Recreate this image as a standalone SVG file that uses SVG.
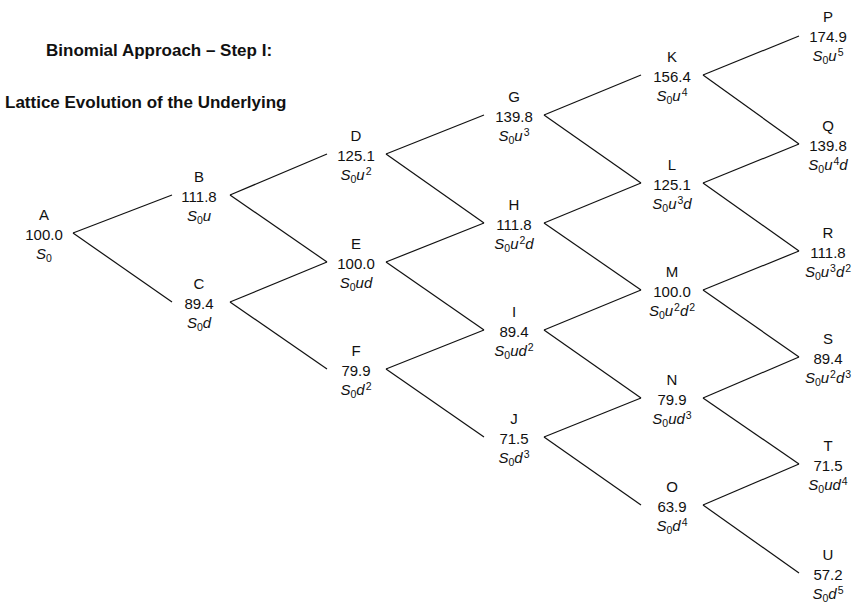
<svg xmlns="http://www.w3.org/2000/svg" width="862" height="616" viewBox="0 0 862 616">
<style>
text{font-family:"Liberation Sans",Arial,sans-serif;fill:#111;}
.t{font-size:17px;font-weight:bold;}
.n{font-size:15px;text-anchor:middle;}
.i{font-style:italic;}
.s{font-size:10.5px;}
#edges line{stroke:#111;stroke-width:1.2;}
</style>
<rect width="862" height="616" fill="#fff"/>
<g id="title">
<text class="t" x="46" y="56">Binomial Approach – Step I:</text>
<text class="t" x="5" y="108">Lattice Evolution of the Underlying</text>
</g>
<g id="edges">
<line x1="73" y1="233" x2="172" y2="195"/>
<line x1="73" y1="233" x2="172" y2="302"/>
<line x1="230" y1="195" x2="327" y2="154"/>
<line x1="230" y1="195" x2="327" y2="262"/>
<line x1="230" y1="302" x2="327" y2="262"/>
<line x1="230" y1="302" x2="327" y2="369"/>
<line x1="386" y1="154" x2="484" y2="115"/>
<line x1="386" y1="154" x2="484" y2="223"/>
<line x1="386" y1="262" x2="484" y2="223"/>
<line x1="386" y1="262" x2="484" y2="330"/>
<line x1="386" y1="369" x2="484" y2="330"/>
<line x1="386" y1="369" x2="484" y2="437"/>
<line x1="544" y1="115" x2="641" y2="75"/>
<line x1="544" y1="115" x2="641" y2="183"/>
<line x1="544" y1="223" x2="641" y2="183"/>
<line x1="544" y1="223" x2="641" y2="290"/>
<line x1="544" y1="330" x2="641" y2="290"/>
<line x1="544" y1="330" x2="641" y2="398"/>
<line x1="544" y1="437" x2="641" y2="398"/>
<line x1="544" y1="437" x2="641" y2="505"/>
<line x1="703" y1="75" x2="799" y2="36"/>
<line x1="703" y1="75" x2="799" y2="144"/>
<line x1="703" y1="183" x2="799" y2="144"/>
<line x1="703" y1="183" x2="799" y2="251"/>
<line x1="703" y1="290" x2="799" y2="251"/>
<line x1="703" y1="290" x2="799" y2="357"/>
<line x1="703" y1="398" x2="799" y2="357"/>
<line x1="703" y1="398" x2="799" y2="464"/>
<line x1="703" y1="505" x2="799" y2="464"/>
<line x1="703" y1="505" x2="799" y2="573"/>
</g>
<g id="A"><text class="n" x="44" y="220">A</text><text class="n" x="44" y="240">100.0</text><text class="n" x="44" y="259"><tspan class="i">S</tspan><tspan class="s" dy="3">0</tspan></text></g>
<g id="B"><text class="n" x="199" y="182">B</text><text class="n" x="199" y="202">111.8</text><text class="n" x="199" y="221"><tspan class="i">S</tspan><tspan class="s" dy="3">0</tspan><tspan class="i" dy="-3">u</tspan></text></g>
<g id="C"><text class="n" x="199" y="289">C</text><text class="n" x="199" y="309">89.4</text><text class="n" x="199" y="328"><tspan class="i">S</tspan><tspan class="s" dy="3">0</tspan><tspan class="i" dy="-3">d</tspan></text></g>
<g id="D"><text class="n" x="356" y="141">D</text><text class="n" x="356" y="161">125.1</text><text class="n" x="356" y="180"><tspan class="i">S</tspan><tspan class="s" dy="3">0</tspan><tspan class="i" dy="-3">u</tspan><tspan class="s" dx="1" dy="-5">2</tspan></text></g>
<g id="E"><text class="n" x="356" y="249">E</text><text class="n" x="356" y="269">100.0</text><text class="n" x="356" y="288"><tspan class="i">S</tspan><tspan class="s" dy="3">0</tspan><tspan class="i" dy="-3">ud</tspan></text></g>
<g id="F"><text class="n" x="356" y="356">F</text><text class="n" x="356" y="376">79.9</text><text class="n" x="356" y="395"><tspan class="i">S</tspan><tspan class="s" dy="3">0</tspan><tspan class="i" dy="-3">d</tspan><tspan class="s" dx="1" dy="-5">2</tspan></text></g>
<g id="G"><text class="n" x="514" y="102">G</text><text class="n" x="514" y="122">139.8</text><text class="n" x="514" y="141"><tspan class="i">S</tspan><tspan class="s" dy="3">0</tspan><tspan class="i" dy="-3">u</tspan><tspan class="s" dx="1" dy="-5">3</tspan></text></g>
<g id="H"><text class="n" x="514" y="210">H</text><text class="n" x="514" y="230">111.8</text><text class="n" x="514" y="249"><tspan class="i">S</tspan><tspan class="s" dy="3">0</tspan><tspan class="i" dy="-3">u</tspan><tspan class="s" dx="1" dy="-5">2</tspan><tspan class="i" dy="5">d</tspan></text></g>
<g id="I"><text class="n" x="514" y="317">I</text><text class="n" x="514" y="337">89.4</text><text class="n" x="514" y="356"><tspan class="i">S</tspan><tspan class="s" dy="3">0</tspan><tspan class="i" dy="-3">ud</tspan><tspan class="s" dx="1" dy="-5">2</tspan></text></g>
<g id="J"><text class="n" x="514" y="424">J</text><text class="n" x="514" y="444">71.5</text><text class="n" x="514" y="463"><tspan class="i">S</tspan><tspan class="s" dy="3">0</tspan><tspan class="i" dy="-3">d</tspan><tspan class="s" dx="1" dy="-5">3</tspan></text></g>
<g id="K"><text class="n" x="672" y="62">K</text><text class="n" x="672" y="82">156.4</text><text class="n" x="672" y="101"><tspan class="i">S</tspan><tspan class="s" dy="3">0</tspan><tspan class="i" dy="-3">u</tspan><tspan class="s" dx="1" dy="-5">4</tspan></text></g>
<g id="L"><text class="n" x="672" y="170">L</text><text class="n" x="672" y="190">125.1</text><text class="n" x="672" y="209"><tspan class="i">S</tspan><tspan class="s" dy="3">0</tspan><tspan class="i" dy="-3">u</tspan><tspan class="s" dx="1" dy="-5">3</tspan><tspan class="i" dy="5">d</tspan></text></g>
<g id="M"><text class="n" x="672" y="277">M</text><text class="n" x="672" y="297">100.0</text><text class="n" x="672" y="316"><tspan class="i">S</tspan><tspan class="s" dy="3">0</tspan><tspan class="i" dy="-3">u</tspan><tspan class="s" dx="1" dy="-5">2</tspan><tspan class="i" dy="5">d</tspan><tspan class="s" dx="1" dy="-5">2</tspan></text></g>
<g id="N"><text class="n" x="672" y="385">N</text><text class="n" x="672" y="405">79.9</text><text class="n" x="672" y="424"><tspan class="i">S</tspan><tspan class="s" dy="3">0</tspan><tspan class="i" dy="-3">ud</tspan><tspan class="s" dx="1" dy="-5">3</tspan></text></g>
<g id="O"><text class="n" x="672" y="492">O</text><text class="n" x="672" y="512">63.9</text><text class="n" x="672" y="531"><tspan class="i">S</tspan><tspan class="s" dy="3">0</tspan><tspan class="i" dy="-3">d</tspan><tspan class="s" dx="1" dy="-5">4</tspan></text></g>
<g id="P"><text class="n" x="828" y="22">P</text><text class="n" x="828" y="42">174.9</text><text class="n" x="828" y="61"><tspan class="i">S</tspan><tspan class="s" dy="3">0</tspan><tspan class="i" dy="-3">u</tspan><tspan class="s" dx="1" dy="-5">5</tspan></text></g>
<g id="Q"><text class="n" x="828" y="131">Q</text><text class="n" x="828" y="151">139.8</text><text class="n" x="828" y="170"><tspan class="i">S</tspan><tspan class="s" dy="3">0</tspan><tspan class="i" dy="-3">u</tspan><tspan class="s" dx="1" dy="-5">4</tspan><tspan class="i" dy="5">d</tspan></text></g>
<g id="R"><text class="n" x="828" y="238">R</text><text class="n" x="828" y="258">111.8</text><text class="n" x="828" y="277"><tspan class="i">S</tspan><tspan class="s" dy="3">0</tspan><tspan class="i" dy="-3">u</tspan><tspan class="s" dx="1" dy="-5">3</tspan><tspan class="i" dy="5">d</tspan><tspan class="s" dx="1" dy="-5">2</tspan></text></g>
<g id="S"><text class="n" x="828" y="344">S</text><text class="n" x="828" y="364">89.4</text><text class="n" x="828" y="383"><tspan class="i">S</tspan><tspan class="s" dy="3">0</tspan><tspan class="i" dy="-3">u</tspan><tspan class="s" dx="1" dy="-5">2</tspan><tspan class="i" dy="5">d</tspan><tspan class="s" dx="1" dy="-5">3</tspan></text></g>
<g id="T"><text class="n" x="828" y="451">T</text><text class="n" x="828" y="471">71.5</text><text class="n" x="828" y="490"><tspan class="i">S</tspan><tspan class="s" dy="3">0</tspan><tspan class="i" dy="-3">ud</tspan><tspan class="s" dx="1" dy="-5">4</tspan></text></g>
<g id="U"><text class="n" x="828" y="560">U</text><text class="n" x="828" y="580">57.2</text><text class="n" x="828" y="599"><tspan class="i">S</tspan><tspan class="s" dy="3">0</tspan><tspan class="i" dy="-3">d</tspan><tspan class="s" dx="1" dy="-5">5</tspan></text></g>
</svg>
